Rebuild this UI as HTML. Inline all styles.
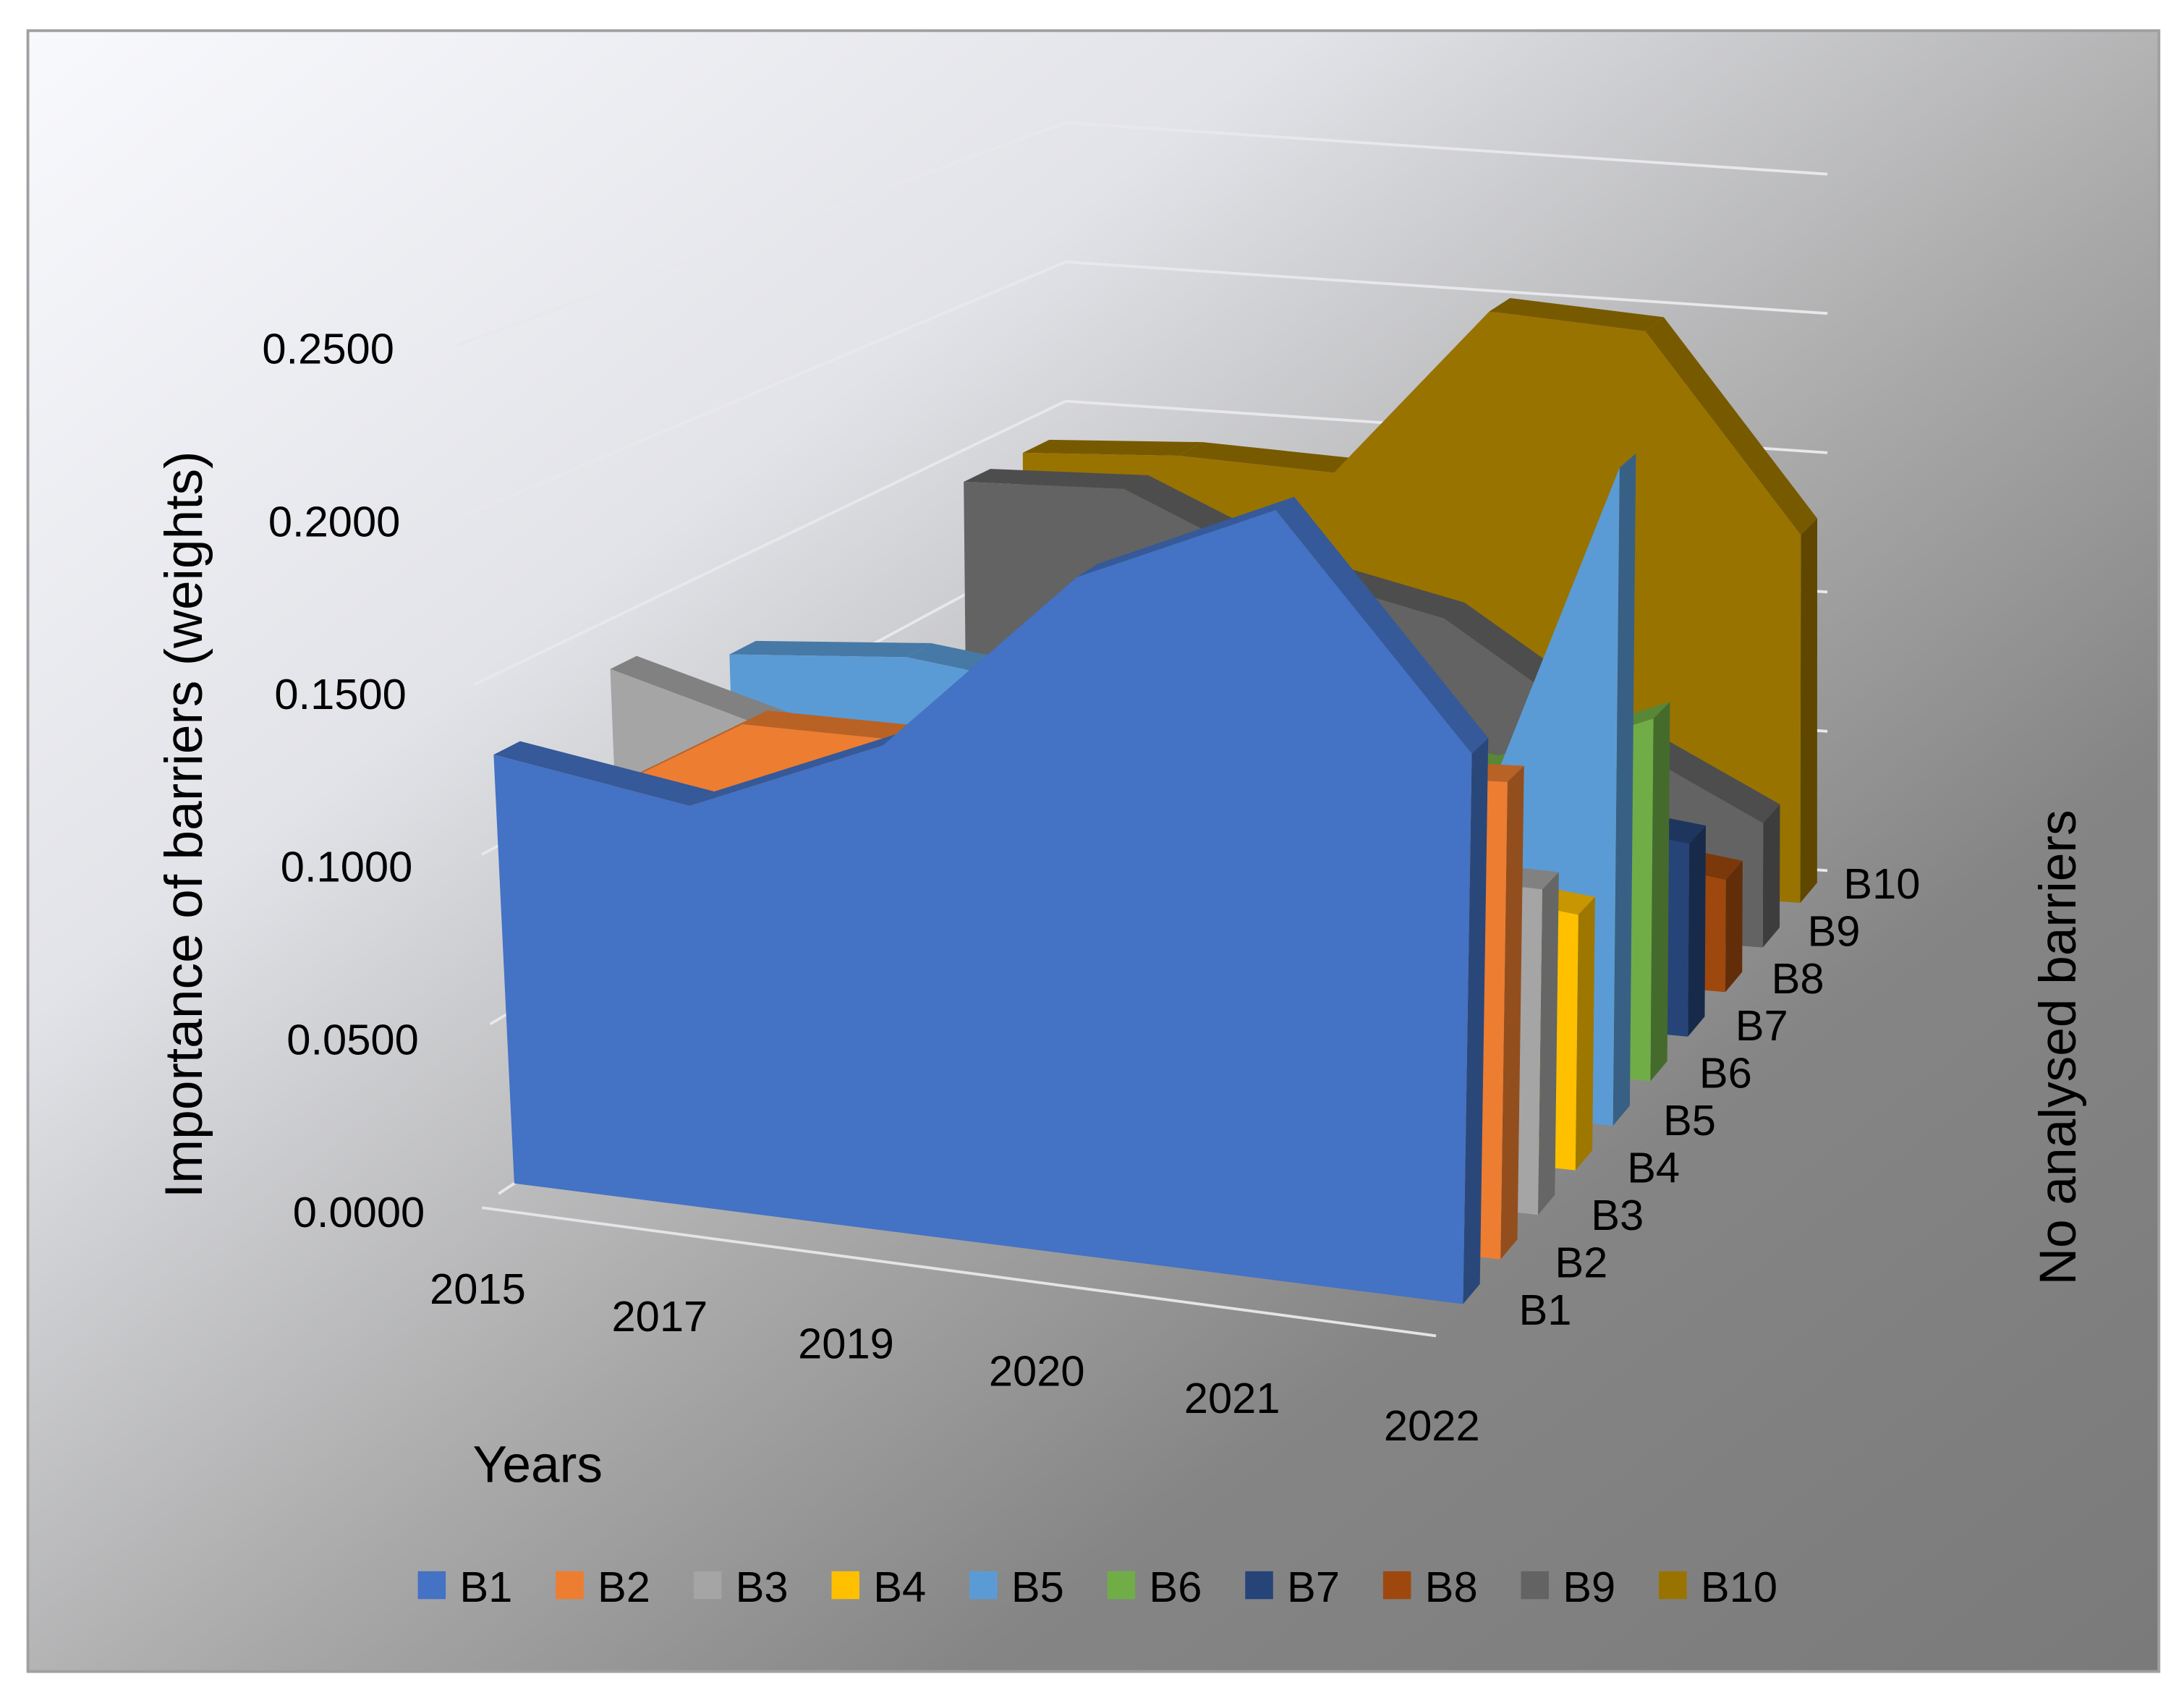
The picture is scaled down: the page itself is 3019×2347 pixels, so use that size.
<!DOCTYPE html>
<html><head><meta charset="utf-8"><style>
html,body{margin:0;padding:0;background:#fff}
svg{display:block}
text{font-family:"Liberation Sans","DejaVu Sans",sans-serif;fill:#000}
</style></head><body>
<svg width="3019" height="2347" viewBox="0 0 1568 1219" xmlns="http://www.w3.org/2000/svg">
<defs>
<linearGradient id="bg" x1="0" y1="0" x2="1" y2="1">
<stop offset="0" stop-color="#f8f9fd"/><stop offset="0.3" stop-color="#e2e3e8"/>
<stop offset="0.55" stop-color="#a8a8a8"/><stop offset="0.72" stop-color="#858585"/><stop offset="1" stop-color="#7a7a7a"/>
</linearGradient>
</defs>
<rect x="20" y="22" width="1530" height="1178" fill="url(#bg)" stroke="#a0a0a0" stroke-width="2"/>
<g id="grid"></g>
<g id="series"></g>
<g id="labels"></g>
<text transform="translate(145,592) rotate(-90)" text-anchor="middle" font-size="38">Importance of barriers (weights)</text>
<text x="386" y="1064" text-anchor="middle" font-size="37">Years</text>
<text transform="translate(1490,752) rotate(-90)" text-anchor="middle" font-size="37">No analysed barriers</text>
<g id="legend"></g>
</svg>
<script>
const years = ['2015','2017','2019','2020','2021','2022'];
const seriesNames = ['B1','B2','B3','B4','B5','B6','B7','B8','B9','B10'];
const yTicks = [0,0.05,0.10,0.15,0.20,0.25];
const yTickLabels = ['0.0000','0.0500','0.1000','0.1500','0.2000','0.2500'];
const B1 = [0.127,0.119,0.144,0.201,0.228,0.163];
const B2 = [0.100,0.134,0.135,0.135,0.140,0.144];
const B3 = [0.135,0.120,0.110,0.100,0.100,0.100];
const B4 = [0.090,0.100,0.100,0.090,0.085,0.080];
const B5 = [0.121,0.126,0.120,0.110,0.060,0.210];
const B6 = [0.100,0.100,0.100,0.100,0.095,0.118];
const B7 = [0.080,0.080,0.080,0.080,0.070,0.064];
const B8 = [0.060,0.060,0.060,0.050,0.045,0.038];
const B9 = [0.139,0.141,0.117,0.105,0.070,0.043];
const B10 = [0.139,0.142,0.140,0.201,0.198,0.130];
const seriesData = [B1,B2,B3,B4,B5,B6,B7,B8,B9,B10];
const colors = ['#4472C4','#ED7D31','#A5A5A5','#FFC000','#5B9BD5','#70AD47','#264478','#9E480E','#636363','#997300'];
const NS='http://www.w3.org/2000/svg';
function shade(hex,f){const n=parseInt(hex.slice(1),16);let r=(n>>16)&255,g=(n>>8)&255,b=n&255;r=Math.round(r*f);g=Math.round(g*f);b=Math.round(b*f);return 'rgb('+r+','+g+','+b+')';}
function lerp(a,b,t){return a+(b-a)*t;}
function P(i,d,v){
  const fx=358+137*i, bx=765+109.4*i;
  const fy=857+17.6*i, by=588+7.4*i;
  const k=lerp(2436,2000,d);
  const tilt=(-120+32*i)*(1-d);
  return [lerp(fx,bx,d)+tilt*v, lerp(fy,by,d)-k*v];
}
function poly(parent,pts,fill){const p=document.createElementNS(NS,'polygon');p.setAttribute('points',pts.map(q=>q[0].toFixed(1)+','+q[1].toFixed(1)).join(' '));p.setAttribute('fill',fill);parent.appendChild(p);return p;}
function line(parent,a,b,col,w){const l=document.createElementNS(NS,'line');l.setAttribute('x1',a[0]);l.setAttribute('y1',a[1]);l.setAttribute('x2',b[0]);l.setAttribute('y2',b[1]);l.setAttribute('stroke',col);l.setAttribute('stroke-width',w);parent.appendChild(l);return l;}
const grid=document.getElementById('grid');
const nY=years.length-1;
yTicks.forEach((t,j)=>{
  const l1=line(grid,P(0,0,t),P(0,1,t),'#e8e8ec',2);
  
  
  const l2=line(grid,P(0,1,t),P(nY,1,t),'#e8e8ec',2);
  
  
});
const fl=line(grid,[P(0,0,0)[0]-12,P(0,0,0)[1]+10],[P(nY,0,0)[0]-12,P(nY,0,0)[1]+14],'#e4e4e8',2);


const sg=document.getElementById('series');
const th=0.045;
for(let s=seriesData.length-1;s>=0;s--){
  const vals=seriesData[s];const dc=(s+0.5)/seriesData.length;
  const df=dc-th/2, db=dc+th/2;
  const g=document.createElementNS(NS,'g');
  
  
  sg.appendChild(g);
  const n=vals.length;
  for(let i=0;i<n-1;i++){
    const st=poly(g,[P(i,df,vals[i]),P(i+1,df,vals[i+1]),P(i+1,db,vals[i+1]),P(i,db,vals[i])],shade(colors[s],0.78));
    
    
  }
  const sd=poly(g,[P(n-1,df,0),P(n-1,df,vals[n-1]),P(n-1,db,vals[n-1]),P(n-1,db,0)],shade(colors[s],0.62));
  
  
  const pts=[P(0,df,0)];
  for(let i=0;i<n;i++)pts.push(P(i,df,vals[i]));
  pts.push(P(n-1,df,0));
  const fr=poly(g,pts,colors[s]);
  
  
}
const lb=document.getElementById('labels');
function txt(parent,x,y,s,size,anchor){const t=document.createElementNS(NS,'text');t.setAttribute('x',x);t.setAttribute('y',y);t.setAttribute('font-size',size);t.setAttribute('text-anchor',anchor);t.textContent=s;parent.appendChild(t);return t;}
yTicks.forEach((t,j)=>{
  const e=txt(lb,305-88*t,881-2480*t,yTickLabels[j],31,'end');
  
  
});
years.forEach((y,i)=>{
  const p=P(i,0,0);
  const e=txt(lb,p[0]-15-8*i+1.6*i*i,p[1]+79+2*i,y,31,'middle');
  
  
});
seriesNames.forEach((nm,s)=>{
  const p=P(nY,(s+0.5)/seriesNames.length,0);
  const e=txt(lb,p[0]+34-s,p[1]+22-2*s,nm,31,'start');
  
  
});
const lg=document.getElementById('legend');
seriesNames.forEach((nm,s)=>{
  const x=300+99*s;
  const g=document.createElementNS(NS,'g');
  
  
  lg.appendChild(g);
  const r=document.createElementNS(NS,'rect');
  r.setAttribute('x',x);r.setAttribute('y',1128);r.setAttribute('width',20);r.setAttribute('height',20);r.setAttribute('fill',colors[s]);
  
  
  g.appendChild(r);
  const t=txt(g,x+30,1150,nm,31,'start');
  
  
});
</script>
</body></html>
